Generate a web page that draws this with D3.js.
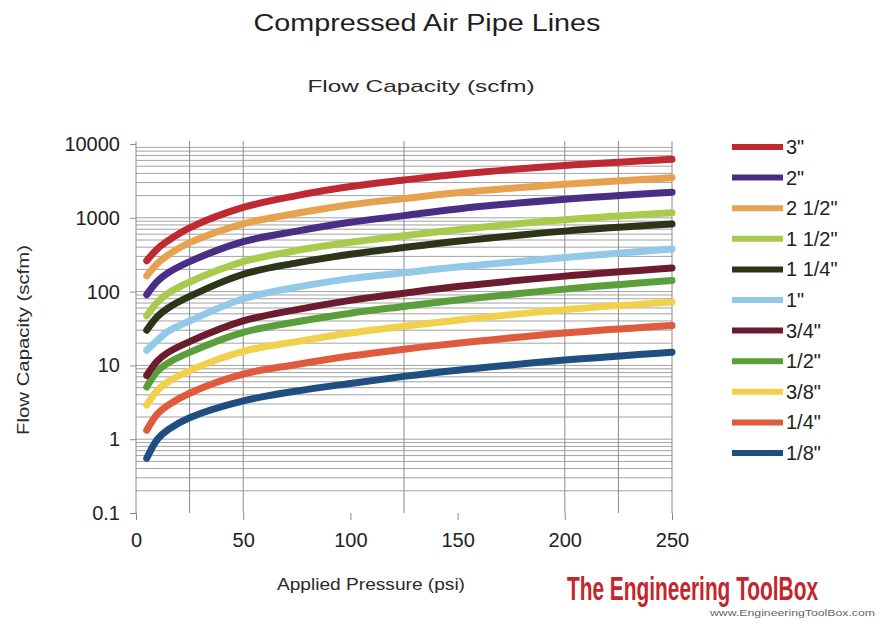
<!DOCTYPE html>
<html>
<head>
<meta charset="utf-8">
<script src="https://cdn.jsdelivr.net/npm/d3@7"></script>
<style>
  body { margin: 0; background: #fff; }
  text { font-family: "Liberation Sans", Arial, Helvetica, sans-serif; }
</style>
</head>
<body>
<script>
// pressure points (psi) read along the x axis
const pressure = [5, 10, 15, 25, 50, 75, 100, 125, 150, 200, 250]

// flow capacity (scfm), one array per pipe size
const flow3in    = [262, 380, 490, 730, 1380, 2000, 2650, 3250, 3900, 5100, 6200]
const flow2in    = [91, 138, 180, 255, 475, 660, 870, 1070, 1320, 1780, 2220]
const flow2_5in  = [164, 240, 315, 460, 830, 1150, 1500, 1820, 2180, 2850, 3500]
const flow1_5in  = [47, 72, 95, 135, 255, 360, 465, 570, 690, 940, 1170]
const flow1_25in = [30, 46, 60, 86, 172, 245, 320, 395, 480, 660, 822]
const flow1in    = [16, 22, 29, 40, 80, 115, 150, 180, 215, 290, 378]
const flow3_4in  = [7.3, 11.5, 15, 21, 40, 57, 76, 95, 117, 162, 209]
const flow1_2in  = [5.1, 8.4, 10.8, 15, 28, 39, 51, 63, 77, 108, 141]
const flow3_8in  = [2.9, 4.6, 6.0, 8.5, 15.5, 21, 27.5, 34, 41, 57, 72]
const flow1_4in  = [1.32, 2.2, 2.9, 4.2, 7.6, 10.3, 13.4, 16.6, 20, 27.5, 34.7]
const flow1_8in  = [0.55, 1.0, 1.35, 1.95, 3.3, 4.5, 5.7, 7.1, 8.6, 11.8, 15.1]

const pipeSizes = ['3"', '2"', '2 1/2"', '1 1/2"', '1 1/4"', '1"', '3/4"', '1/2"', '3/8"', '1/4"', '1/8"']
const pipeFlows = [flow3in, flow2in, flow2_5in, flow1_5in, flow1_25in, flow1in, flow3_4in, flow1_2in, flow3_8in, flow1_4in, flow1_8in]
const pipeColors = ['#bf2a32', '#4a2d85', '#e7a24f', '#a8cb4c', '#2d3519', '#92c8e8', '#6c1c2e', '#5b9f3b', '#f1d04c', '#df5b3b', '#1f4f81']

const xTicks = [0, 50, 100, 150, 200, 250]
const xGrid = [0, 25, 50, 125, 200, 225, 250]
const yTicks = [0.1, 1, 10, 100, 1000, 10000]
const yTickLabels = ['0.1', '1', '10', '100', '1000', '10000']

const width = 877
const height = 623

const svg = d3.select('body')
  .append('svg')
  .attr('width', width)
  .attr('height', height)

const xScale = d3.scaleLinear()
  .domain([0, 250])
  .range([136, 672])

const yScale = d3.scaleLog()
  .domain([0.1, 10000])
  .range([513, 144])

// titles
svg.append('text')
  .attr('x', 427).attr('y', 31)
  .attr('text-anchor', 'middle')
  .attr('font-size', 23)
  .attr('fill', '#1e1e1e')
  .attr('textLength', 347)
  .attr('lengthAdjust', 'spacingAndGlyphs')
  .text('Compressed Air Pipe Lines')

svg.append('text')
  .attr('x', 421).attr('y', 92)
  .attr('text-anchor', 'middle')
  .attr('font-size', 17)
  .attr('fill', '#2a2a2a')
  .attr('textLength', 227)
  .attr('lengthAdjust', 'spacingAndGlyphs')
  .text('Flow Capacity (scfm)')

// horizontal grid (major + minor log lines)
const gridY = yScale.ticks().filter((v) => v > 0.1 && v < 10000)
svg.append('g')
  .selectAll('line')
  .data(gridY)
  .enter()
  .append('line')
  .attr('x1', xScale(0)).attr('x2', xScale(250))
  .attr('y1', (d) => yScale(d)).attr('y2', (d) => yScale(d))
  .attr('stroke', '#a3a3a3')
  .attr('stroke-width', 1)

// vertical grid
svg.append('g')
  .selectAll('line')
  .data(xGrid)
  .enter()
  .append('line')
  .attr('x1', (d) => xScale(d)).attr('x2', (d) => xScale(d))
  .attr('y1', 141).attr('y2', 513)
  .attr('stroke', '#8a8a8a')
  .attr('stroke-width', 1)

// x axis
const xAxis = svg.append('g')
  .attr('transform', 'translate(0, 513)')
  .call(d3.axisBottom(xScale).tickValues(xTicks).tickSize(7).tickPadding(13))
xAxis.select('.domain').remove()
xAxis.selectAll('line').attr('stroke', '#8a8a8a')
xAxis.selectAll('text')
  .attr('font-size', 20)
  .attr('fill', '#222')
  .attr('font-family', '"Liberation Sans", Arial, sans-serif')

// y axis
const yAxis = svg.append('g')
  .attr('transform', `translate(${xScale(0)}, 0)`)
  .call(d3.axisLeft(yScale).tickValues(yTicks).tickFormat((d, i) => yTickLabels[i]).tickSize(6).tickPadding(10))
yAxis.select('.domain').remove()
yAxis.selectAll('line').attr('stroke', '#8a8a8a')
yAxis.selectAll('text')
  .attr('font-size', 20)
  .attr('fill', '#222')
  .attr('font-family', '"Liberation Sans", Arial, sans-serif')

// axis titles
svg.append('text')
  .attr('x', 371).attr('y', 590)
  .attr('text-anchor', 'middle')
  .attr('font-size', 17)
  .attr('fill', '#2a2a2a')
  .attr('textLength', 188)
  .attr('lengthAdjust', 'spacingAndGlyphs')
  .text('Applied Pressure (psi)')

svg.append('text')
  .attr('transform', 'translate(29, 340) rotate(-90)')
  .attr('text-anchor', 'middle')
  .attr('font-size', 17)
  .attr('fill', '#2a2a2a')
  .attr('textLength', 190)
  .attr('lengthAdjust', 'spacingAndGlyphs')
  .text('Flow Capacity (scfm)')

// curves
const line = d3.line()
  .x((d) => xScale(d[0]))
  .y((d) => yScale(d[1]))
  .curve(d3.curveCatmullRom.alpha(0.5))

const seriesData = pipeSizes.map((name, i) => ({
  name: name,
  color: pipeColors[i],
  points: pressure.map((p, j) => [p, pipeFlows[i][j]])
}))

svg.append('g')
  .selectAll('path')
  .data(seriesData.slice().reverse())
  .enter()
  .append('path')
  .attr('d', (d) => line(d.points))
  .attr('fill', 'none')
  .attr('stroke', (d) => d.color)
  .attr('stroke-width', 7)
  .attr('stroke-linecap', 'round')

// legend
const legend = svg.append('g')
  .attr('transform', 'translate(732, 147)')

const legendItem = legend.selectAll('g')
  .data(seriesData)
  .enter()
  .append('g')
  .attr('transform', (d, i) => `translate(0, ${i * 30.6})`)

legendItem.append('line')
  .attr('x1', 0).attr('x2', 51)
  .attr('y1', 0).attr('y2', 0)
  .attr('stroke', (d) => d.color)
  .attr('stroke-width', 6)

legendItem.append('text')
  .attr('x', 54).attr('y', 7)
  .attr('font-size', 20)
  .attr('fill', '#222')
  .text((d) => d.name)

// logo
svg.append('text')
  .attr('transform', 'translate(818, 600) scale(1, 1.12)')
  .attr('text-anchor', 'end')
  .attr('font-family', '"Liberation Sans Narrow", "DejaVu Sans Condensed", sans-serif')
  .attr('font-weight', 'bold')
  .attr('font-size', 30)
  .attr('fill', '#c4252d')
  .attr('textLength', 251)
  .attr('lengthAdjust', 'spacingAndGlyphs')
  .text('The Engineering ToolBox')

svg.append('text')
  .attr('x', 875).attr('y', 616)
  .attr('text-anchor', 'end')
  .attr('font-size', 9)
  .attr('fill', '#666')
  .attr('textLength', 165)
  .attr('lengthAdjust', 'spacingAndGlyphs')
  .text('www.EngineeringToolBox.com')
</script>
</body>
</html>
